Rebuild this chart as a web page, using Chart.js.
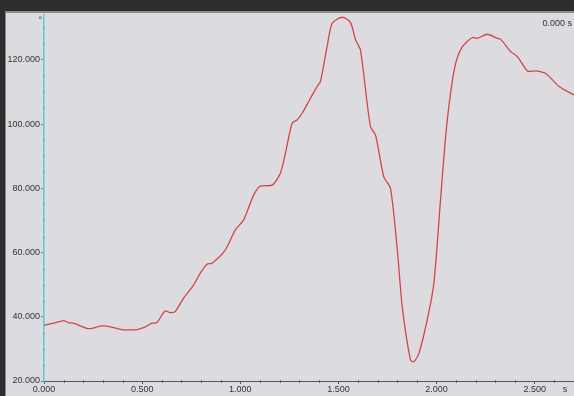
<!DOCTYPE html>
<html>
<head>
<meta charset="utf-8">
<script src="https://cdn.jsdelivr.net/npm/chart.js@4/dist/chart.umd.min.js"></script>
<style>
  html, body { margin: 0; padding: 0; background: #2e2e2e; }
  #wrap { width: 574px; height: 396px; }
</style>
</head>
<body>
<div id="wrap"><canvas id="myChart" width="574" height="396"></canvas></div>
<script>
// time (s) and angle readings
var times = [0, 0.05, 0.1, 0.124, 0.15, 0.218, 0.243, 0.286, 0.32, 0.388, 0.44, 0.481, 0.524, 0.55, 0.575,
	0.617, 0.643, 0.668, 0.711, 0.762, 0.796, 0.83, 0.856, 0.923, 0.974, 1.017, 1.068, 1.102, 1.162, 1.204,
	1.23, 1.264, 1.289, 1.315, 1.357, 1.391, 1.408, 1.442, 1.468, 1.519, 1.561, 1.587, 1.612, 1.663, 1.689,
	1.731, 1.765, 1.8, 1.825, 1.867, 1.884, 1.91, 1.952, 1.986, 2.02, 2.046, 2.071, 2.097, 2.131, 2.182,
	2.207, 2.259, 2.31, 2.327, 2.378, 2.412, 2.463, 2.505, 2.556, 2.624, 2.7];
var angles = [37.4, 38.0, 38.8, 38.2, 38.0, 36.4, 36.4, 37.1, 37.1, 36.1, 35.9, 36.1, 37.1, 38.0, 38.2,
	41.8, 41.3, 41.6, 45.8, 49.9, 53.6, 56.4, 56.7, 60.8, 67.0, 70.2, 77.9, 80.7, 81.0, 84.7,
	91.0, 100.3, 101.3, 103.4, 108.0, 111.7, 113.2, 124.1, 131.4, 133.3, 131.7, 126.3, 123.1, 99.2, 96.6,
	83.6, 80.0, 60.8, 43.1, 26.5, 26.0, 28.6, 39.0, 50.4, 76.4, 96.1, 109.6, 118.9, 124.1, 127.0,
	126.7, 128.0, 126.7, 126.4, 122.6, 121.0, 116.6, 116.6, 115.8, 111.7, 109.1];
var xTicks = [0, 0.5, 1.0, 1.5, 2.0, 2.5];
var yTicks = [20, 40, 60, 80, 100, 120];

var points = times.map(function (t, i) { return { x: t, y: angles[i] }; });

var FONT = "'Liberation Sans', Arial, sans-serif";

// frame, minor ticks and unit labels
var decor = {
	id: 'decor',
	beforeDraw: function (chart) {
		var ctx = chart.ctx;
		ctx.save();
		ctx.fillStyle = '#2e2e2e';
		ctx.fillRect(0, 0, chart.width, chart.height);
		ctx.fillStyle = '#8a8a8a';
		ctx.fillRect(5, 11, chart.width - 5, chart.height - 11);
		ctx.fillStyle = '#dcdce0';
		ctx.fillRect(6, 13, chart.width - 6, chart.height - 13);
		ctx.restore();
	},
	afterDraw: function (chart) {
		var ctx = chart.ctx;
		var xs = chart.scales.x, ys = chart.scales.y;
		var a = chart.chartArea;
		ctx.save();
		ctx.strokeStyle = '#8c9aa0';
		ctx.lineWidth = 1;
		for (var v = 25; v < 134; v += 5) {
			if (v % 20 == 0) continue;
			var py = Math.round(ys.getPixelForValue(v)) + 0.5;
			ctx.beginPath();
			ctx.moveTo(a.left - 1, py);
			ctx.lineTo(a.left + 1, py);
			ctx.stroke();
		}
		ctx.strokeStyle = '#666';
		for (var k = 1; k <= 27; k++) {
			var t = k / 10;
			if (k % 5 == 0) continue;
			var px = Math.round(xs.getPixelForValue(t)) + 0.5;
			ctx.beginPath();
			ctx.moveTo(px, a.bottom - 1);
			ctx.lineTo(px, a.bottom + 2);
			ctx.stroke();
		}
		ctx.fillStyle = '#333';
		ctx.font = '9px ' + FONT;
		ctx.textBaseline = 'middle';
		ctx.textAlign = 'right';
		ctx.fillText('0.000 s', 572, 24);
		ctx.fillText('\u00b0', a.left - 2, 21);
		ctx.textAlign = 'center';
		ctx.fillText('s', 565, 390);
		ctx.restore();
	}
};

var ctx = document.getElementById('myChart').getContext('2d');
var myChart = new Chart(ctx, {
	type: 'line',
	data: {
		datasets: [{
			label: 'angle',
			data: points,
			borderColor: '#d4454a',
			borderWidth: 1.3,
			pointRadius: 0,
			tension: 0.25,
			fill: false
		}]
	},
	options: {
		responsive: false,
		animation: false,
		events: [],
		layout: { padding: { top: 15, right: 0, left: 0, bottom: 0 } },
		plugins: { legend: { display: false }, tooltip: { enabled: false } },
		scales: {
			x: {
				type: 'linear',
				min: 0,
				max: 2.7,
				afterBuildTicks: function (scale) {
					scale.ticks = xTicks.map(function (v) { return { value: v }; });
				},
				afterFit: function (scale) { scale.height = 15; },
				ticks: {
					color: '#333',
					font: { family: FONT, size: 9 },
					padding: 0,
					maxRotation: 0,
					callback: function (v) { return Number(v).toFixed(3); }
				},
				grid: { drawOnChartArea: false, drawTicks: true, tickLength: 3, color: '#555' },
				border: { color: '#555', width: 1 }
			},
			y: {
				type: 'linear',
				min: 20,
				max: 134,
				afterBuildTicks: function (scale) {
					scale.ticks = yTicks.map(function (v) { return { value: v }; });
				},
				afterFit: function (scale) { scale.width = 44; },
				ticks: {
					color: '#333',
					font: { family: FONT, size: 9 },
					padding: 1,
					callback: function (v) { return Number(v).toFixed(3); }
				},
				grid: { drawOnChartArea: false, drawTicks: true, tickLength: 3, color: '#777' },
				border: { color: '#4fd3d8', width: 1.5 }
			}
		}
	},
	plugins: [decor]
});
</script>
</body>
</html>
